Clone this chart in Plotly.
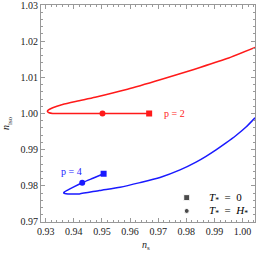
import plotly.graph_objects as go

# p = 2 curve (red)
red_ns = [0.9668, 0.960, 0.952, 0.945, 0.939, 0.935, 0.9325, 0.9312, 0.9306, 0.9310, 0.9325,
          0.9360, 0.9410, 0.9476, 0.9591, 0.9710, 0.9827, 0.9945, 1.0045]
red_niso = [1.0000, 1.0000, 1.0000, 1.0000, 1.0000, 1.0000, 1.0000, 1.0002, 1.0006, 1.0010, 1.0016,
            1.0025, 1.0034, 1.0045, 1.0067, 1.0094, 1.0122, 1.0152, 1.0183]
red_sq = ([0.9668], [1.0000])
red_dot = ([0.9502], [1.0000])

# p = 4 curve (blue)
blue_ns = [0.9506, 0.9468, 0.9430, 0.9400, 0.9378, 0.9366, 0.9364, 0.9372, 0.9392, 0.9420,
           0.9491, 0.95646, 0.96355, 0.97066, 0.97778, 0.98347, 0.98703, 0.99059, 0.99414,
           0.99770, 1.00126, 1.00445]
blue_niso = [0.98333, 0.98208, 0.98083, 0.97970, 0.97880, 0.97825, 0.97800, 0.97778, 0.97770, 0.97776,
             0.97870, 0.97960, 0.98087, 0.98230, 0.98439, 0.98655, 0.98815, 0.98993, 0.99185,
             0.99391, 0.99626, 0.99881]
blue_sq = ([0.9506], [0.98333])
blue_dot = ([0.9430], [0.98083])

# legend keys (T_* = 0 -> square, T_* = H_* -> circle)
key_ns = 0.98016
key_niso = [0.97672, 0.97304]
key_text_ns = 0.98727
key_labels = ["<i>T</i><sub>*</sub>  =  0", "<i>T</i><sub>*</sub>  =  <i>H</i><sub>*</sub>"]

x_ticks = [0.93, 0.94, 0.95, 0.96, 0.97, 0.98, 0.99, 1.00]
x_labels = ["0.93", "0.94", "0.95", "0.96", "0.97", "0.98", "0.99", "1.00"]
y_ticks = [0.97, 0.98, 0.99, 1.00, 1.01, 1.02, 1.03]
y_labels = ["0.97", "0.98", "0.99", "1.00", "1.01", "1.02", "1.03"]

RED = "#ff1a1a"
BLUE = "#1a1aff"

fig = go.Figure()
fig.add_trace(go.Scatter(x=red_ns, y=red_niso, mode="lines", line=dict(color=RED, width=1.5, shape="spline", smoothing=0.6)))
fig.add_trace(go.Scatter(x=blue_ns, y=blue_niso, mode="lines", line=dict(color=BLUE, width=1.5, shape="spline", smoothing=0.6)))
fig.add_trace(go.Scatter(x=red_sq[0], y=red_sq[1], mode="markers", marker=dict(symbol="square", size=6, color=RED)))
fig.add_trace(go.Scatter(x=red_dot[0], y=red_dot[1], mode="markers", marker=dict(symbol="circle", size=6, color=RED)))
fig.add_trace(go.Scatter(x=blue_sq[0], y=blue_sq[1], mode="markers", marker=dict(symbol="square", size=6, color=BLUE)))
fig.add_trace(go.Scatter(x=blue_dot[0], y=blue_dot[1], mode="markers", marker=dict(symbol="circle", size=6, color=BLUE)))
fig.add_trace(go.Scatter(x=[key_ns, key_ns], y=key_niso, mode="markers",
                         marker=dict(symbol=["square", "circle"], size=[6, 5], color="black")))

FONT = "Liberation Serif"
axis_common = dict(showgrid=False, zeroline=False, showline=True, linecolor="#999999", linewidth=1,
                   mirror="ticks", ticks="inside", ticklen=4, tickcolor="#999999", tickwidth=1,
                   tickfont=dict(family=FONT, size=10, color="#222222"), ticklabeloverflow="allow",
                   minor=dict(ticks="inside", ticklen=2, tickcolor="#999999", dtick=0.002))

fig.update_xaxes(range=[0.92833, 1.00445], tickvals=x_ticks, ticktext=x_labels, **axis_common)
fig.update_yaxes(range=[0.96998, 1.03002], tickvals=y_ticks, ticktext=y_labels, **axis_common)

ann = [
    dict(text="p = 2", x=0.9713, y=1.0000, xref="x", yref="y", xanchor="left", yanchor="middle",
         showarrow=False, font=dict(family=FONT, size=10, color=RED)),
    dict(text="p = 4", x=0.9348, y=0.9839, xref="x", yref="y", xanchor="left", yanchor="middle",
         showarrow=False, font=dict(family=FONT, size=10, color=BLUE)),
    dict(text="<i>n</i><sub>iso</sub>", x=-0.16, y=0.455, xref="paper", yref="paper", xanchor="center", yanchor="middle",
         textangle=-90, showarrow=False, font=dict(family=FONT, size=10, color="#222222")),
    dict(text="<i>n</i><sub>s</sub>", x=0.49, y=-0.11, xref="paper", yref="paper", xanchor="center", yanchor="middle",
         showarrow=False, font=dict(family=FONT, size=10, color="#222222")),
]
for yv, lab in zip(key_niso, key_labels):
    ann.append(dict(text=lab, x=key_text_ns, y=yv, xref="x", yref="y", xanchor="left", yanchor="middle",
                    showarrow=False, font=dict(family=FONT, size=11, color="black")))

fig.update_layout(width=256, height=256, margin=dict(l=41, r=1, t=5, b=34), showlegend=False,
                  plot_bgcolor="white", paper_bgcolor="white", annotations=ann)
fig.write_html("out.html", config={"displayModeBar": False},
               post_script="document.body.style.margin='0';document.body.style.padding='0';document.body.style.overflow='hidden';")
